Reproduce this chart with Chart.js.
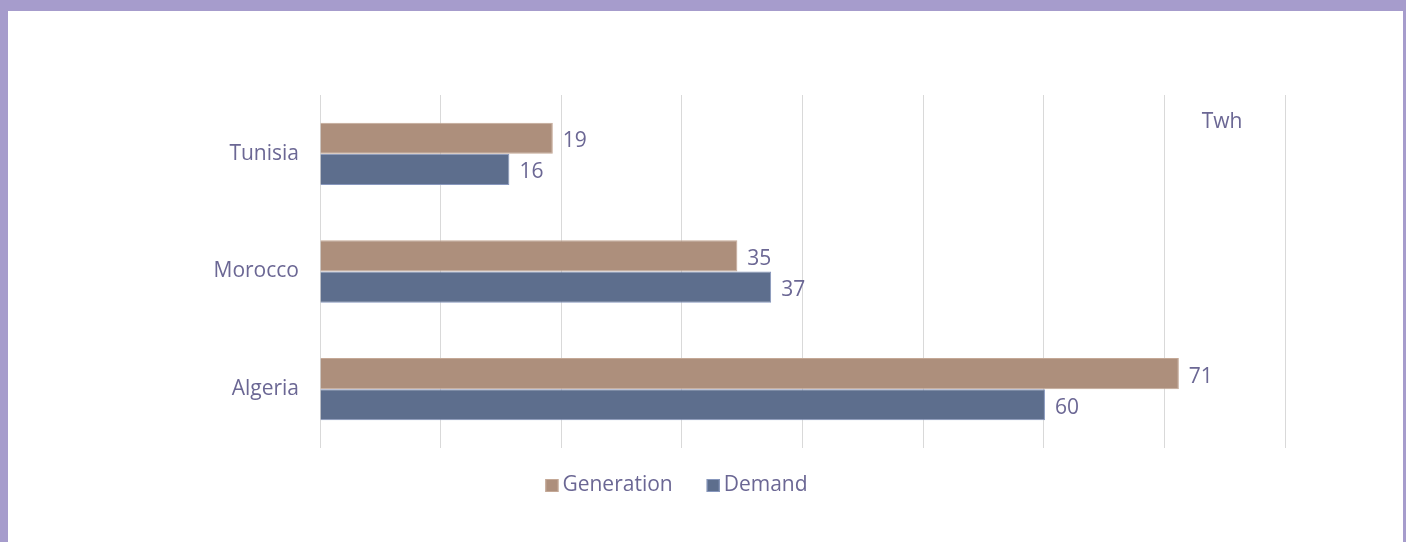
<!DOCTYPE html>
<html>
<head>
<meta charset="utf-8">
<script src="https://cdn.jsdelivr.net/npm/chart.js@4/dist/chart.umd.min.js"></script>
<style>
    html, body { margin: 0; padding: 0; }
    body { background: #a69ccc; width: 1406px; height: 542px; overflow: hidden; position: relative; }
    .panel { position: absolute; left: 8px; top: 11px; width: 1395px; height: 531px; background: #ffffff; }
    .panel canvas { display: block; }
</style>
</head>
<body>
<div class="panel">
    <canvas id="energyChart" width="1395" height="531"></canvas>
</div>
<script>
// Chart data (TWh); labels show the rounded values
const countries = ['Tunisia', 'Morocco', 'Algeria'];
const seriesNames = ['Generation', 'Demand'];
const generation = [19.3, 34.6, 71.2];
const demand = [15.7, 37.4, 60.1];
const unitLabel = 'Twh';

const textColor = '#6b6794';
const fontFamily = '"Open Sans"';

// Value labels at the end of each bar, the unit text and the legend
const valueLabels = {
    id: 'valueLabels',
    afterDatasetsDraw(chart) {
        const ctx = chart.ctx;
        ctx.save();
        ctx.font = '21px ' + fontFamily;
        ctx.fillStyle = textColor;
        ctx.textBaseline = 'middle';
        ctx.textAlign = 'left';
        chart.data.datasets.forEach(function(ds, i) {
            const meta = chart.getDatasetMeta(i);
            meta.data.forEach(function(bar, j) {
                ctx.fillText(String(Math.round(ds.data[j])), bar.x + 10, bar.y + 3);
            });
        });
        const area = chart.chartArea;
        ctx.textAlign = 'center';
        ctx.fillText(unitLabel, area.right - 63, area.top + 27);

        // legend
        const box = 13;
        const boxGap = 4;
        const itemGap = 34;
        const widths = chart.data.datasets.map(ds => box + boxGap + ctx.measureText(ds.label).width);
        const total = widths.reduce((a, b) => a + b, 0) + itemGap * (widths.length - 1);
        let x = chart.width / 2 - 29 - total / 2;
        const y = area.bottom + 37;
        ctx.textAlign = 'left';
        chart.data.datasets.forEach(function(ds, i) {
            ctx.fillStyle = ds.backgroundColor;
            ctx.fillRect(x, y - 6, box, box);
            ctx.strokeStyle = ds.borderColor;
            ctx.lineWidth = 1;
            ctx.strokeRect(x + 0.5, y - 5.5, box - 1, box - 1);
            ctx.fillStyle = textColor;
            ctx.fillText(ds.label, x + box + boxGap, y);
            x += widths[i] + itemGap;
        });
        ctx.restore();
    }
};

const chartCtx = document.getElementById('energyChart');
new Chart(chartCtx, {
    type: 'bar',
    data: {
        labels: countries,
        datasets: [{
            label: seriesNames[0],
            data: generation,
            backgroundColor: '#ad8f7c',
            borderColor: '#c4a896',
            borderWidth: 1
        }, {
            label: seriesNames[1],
            data: demand,
            backgroundColor: '#5d6e8d',
            borderColor: '#8797bd',
            borderWidth: 1
        }]
    },
    options: {
        responsive: false,
        animation: false,
        indexAxis: 'y',
        datasets: {
            bar: {
                barPercentage: 1,
                categoryPercentage: 0.53
            }
        },
        layout: {
            padding: { top: 84, right: 118, bottom: 94, left: 0 }
        },
        plugins: {
            tooltip: { enabled: false },
            legend: { display: false }
        },
        scales: {
            x: {
                min: 0,
                max: 80,
                ticks: { display: false, stepSize: 10 },
                grid: { color: '#d9d9d9', drawTicks: false },
                border: { display: false }
            },
            y: {
                afterFit: function(scale) { scale.width = 312; },
                grid: { display: false },
                border: { display: false },
                ticks: {
                    color: textColor,
                    padding: 13,
                    font: { family: 'Open Sans', size: 21 }
                }
            }
        }
    },
    plugins: [valueLabels]
});
</script>
</body>
</html>
